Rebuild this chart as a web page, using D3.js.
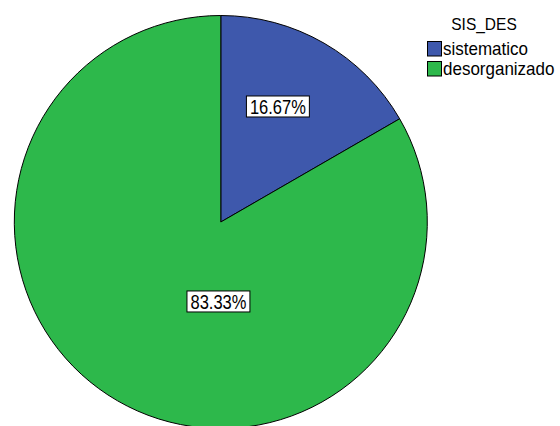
<!DOCTYPE html>
<html>
<head>
<meta charset="utf-8">
<script src="https://cdn.jsdelivr.net/npm/d3@7"></script>
<style>
  html, body { margin: 0; padding: 0; background: #fff; }
  svg { display: block; }
  text { font-family: "Liberation Sans", Arial, sans-serif; fill: #000; }
</style>
</head>
<body>
<svg id="chart" width="560" height="426"></svg>
<script>
// Data
const categories = ["sistematico", "desorganizado"];
const values = [16.67, 83.33];
const colors = ["#3E58AC", "#2DB84B"];
const legendTitle = "SIS_DES";

// Label anchors per slice: [angle in degrees clockwise from top, fraction of radius]
const labelAnchors = [[26.3, 0.624], [181.7, 0.385]];

const cx = 220.8, cy = 222, R = 206.5;

const svg = d3.select("#chart");

const pie = d3.pie().sort(null).value(d => d.value)
  .startAngle(0).endAngle(2 * Math.PI);
const arcs = pie(categories.map((c, i) => ({ cat: c, value: values[i] })));
const arc = d3.arc().innerRadius(0).outerRadius(R);
const color = d3.scaleOrdinal().domain(categories).range(colors);

const g = svg.append("g").attr("transform", `translate(${cx},${cy})`);

g.selectAll("path.slice").data(arcs).join("path")
  .attr("class", "slice")
  .attr("d", arc)
  .attr("fill", d => color(d.data.cat))
  .attr("stroke", "#000")
  .attr("stroke-width", 1)
  .attr("stroke-linejoin", "round");

// Percentage labels in white boxes (text slightly stretched vertically)
const fmt = d => d3.format(".2f")(d.data.value) + "%";
const lbl = g.selectAll("g.lbl").data(arcs).join("g").attr("class", "lbl")
  .attr("transform", (d, i) => {
    const a = labelAnchors[i][0] * Math.PI / 180;
    const r = labelAnchors[i][1] * R;
    return `translate(${r * Math.sin(a)},${-r * Math.cos(a)})`;
  });
lbl.each(function(d) {
  const sel = d3.select(this);
  const t = sel.append("text")
    .attr("text-anchor", "middle")
    .attr("transform", "translate(0,7.2) scale(1,1.2)")
    .attr("font-size", 16.5)
    .text(fmt(d));
  const bb = t.node().getBBox();
  const padX = 3.5, boxH = 21;
  sel.insert("rect", "text")
    .attr("x", -bb.width / 2 - padX)
    .attr("y", -boxH / 2)
    .attr("width", bb.width + 2 * padX)
    .attr("height", boxH)
    .attr("fill", "#fff")
    .attr("stroke", "#000")
    .attr("stroke-width", 1);
});

// Legend
const lg = svg.append("g").attr("transform", "translate(427,0)");
lg.append("text")
  .attr("transform", "translate(57,29.5) scale(1,1.08)")
  .attr("text-anchor", "middle")
  .attr("font-size", 15.5)
  .text(legendTitle);
const items = lg.selectAll("g.item").data(categories).join("g").attr("class", "item")
  .attr("transform", (d, i) => `translate(0,${41 + i * 20})`);
items.append("rect")
  .attr("x", 0.5).attr("y", 0.5)
  .attr("width", 14).attr("height", 14.5)
  .attr("fill", d => color(d))
  .attr("stroke", "#000").attr("stroke-width", 1);
items.append("text")
  .attr("transform", "translate(16,14) scale(1,1.1)")
  .attr("font-size", 17)
  .text(d => d);
</script>
</body>
</html>
